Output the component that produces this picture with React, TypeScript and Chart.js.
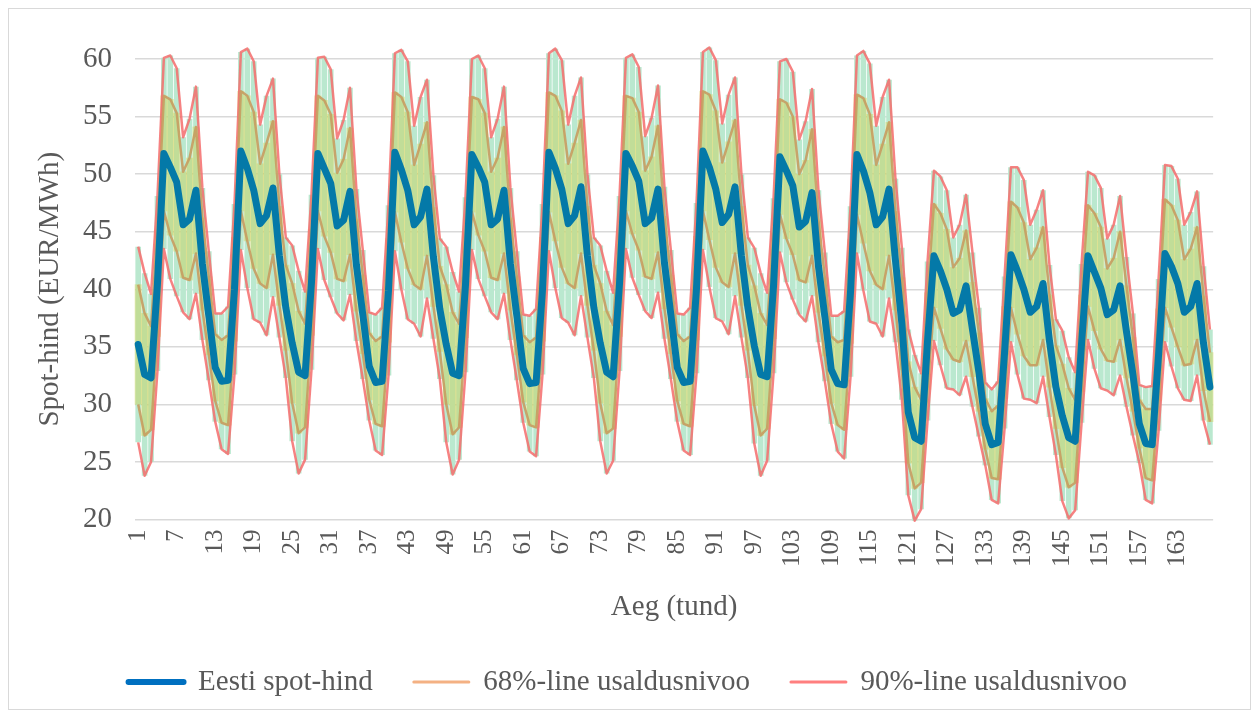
import React, { useEffect, useRef } from 'react';
import { Chart, registerables } from 'chart.js';

Chart.register(...registerables);

// Hours 1..168
const hours: string[] = Array.from({ length: 168 }, (_, i) => String(i + 1));
const tickLabels: string[] = ['1', '7', '13', '19', '25', '31', '37', '43', '49', '55', '61', '67', '73', '79', '85', '91', '97', '103', '109', '115', '121', '127', '133', '139', '145', '151', '157', '163'];

const spot: number[] = [
  35.2, 32.6, 32.3, 40.5, 51.8, 50.6, 49.3, 45.6, 46.1, 48.6, 42.2, 37.7,
  33.2, 32.0, 32.1, 40.0, 52.0, 50.5, 48.6, 45.7, 46.4, 48.8, 42.9, 38.4,
  35.3, 32.8, 32.5, 40.6, 51.8, 50.5, 49.2, 45.5, 46.0, 48.5, 42.1, 37.8,
  33.3, 31.9, 32.0, 39.9, 51.9, 50.4, 48.6, 45.6, 46.3, 48.7, 42.8, 38.3,
  35.2, 32.7, 32.5, 40.4, 51.7, 50.6, 49.3, 45.6, 46.1, 48.6, 42.2, 37.7,
  33.1, 31.8, 31.9, 40.0, 51.9, 50.5, 48.7, 45.7, 46.4, 48.9, 42.9, 38.4,
  35.3, 32.8, 32.4, 40.5, 51.8, 50.7, 49.4, 45.7, 46.2, 48.7, 42.3, 37.8,
  33.2, 31.9, 32.0, 40.1, 52.0, 50.6, 48.7, 45.8, 46.5, 48.9, 42.9, 38.4,
  35.1, 32.6, 32.4, 40.3, 51.5, 50.3, 49.0, 45.4, 45.9, 48.4, 42.0, 37.6,
  33.0, 31.8, 31.7, 39.8, 51.7, 50.3, 48.4, 45.6, 46.3, 48.7, 42.5, 37.0,
  29.3, 27.1, 26.8, 35.5, 42.9, 41.6, 40.0, 37.9, 38.2, 40.3, 36.5, 32.8,
  28.3, 26.5, 26.7, 34.5, 43.0, 41.6, 40.0, 38.0, 38.5, 40.5, 35.5, 31.5,
  29.0, 27.1, 26.8, 35.3, 42.9, 41.5, 40.1, 37.8, 38.2, 40.3, 36.3, 32.6,
  28.3, 26.6, 26.5, 34.3, 43.1, 42.0, 40.5, 38.0, 38.5, 40.5, 35.3, 31.5,
];

const upper68: number[] = [
  40.4, 37.9, 36.8, 45.1, 56.8, 56.5, 55.3, 50.2, 51.4, 54.1, 46.2, 41.1,
  36.1, 35.6, 36.0, 44.5, 57.2, 56.8, 55.4, 50.9, 52.7, 54.6, 47.2, 42.1,
  40.5, 38.1, 37.0, 45.2, 56.8, 56.4, 55.2, 50.1, 51.3, 54.0, 46.1, 41.2,
  36.2, 35.5, 35.9, 44.4, 57.1, 56.7, 55.4, 50.8, 52.6, 54.5, 47.1, 42.0,
  40.4, 38.0, 37.0, 45.0, 56.7, 56.5, 55.3, 50.2, 51.4, 54.1, 46.2, 41.1,
  36.0, 35.4, 35.8, 44.5, 57.1, 56.8, 55.5, 50.9, 52.7, 54.7, 47.2, 42.1,
  40.5, 38.1, 36.9, 45.1, 56.8, 56.6, 55.4, 50.3, 51.5, 54.2, 46.3, 41.2,
  36.1, 35.5, 35.9, 44.6, 57.2, 56.9, 55.5, 51.0, 52.8, 54.7, 47.2, 42.1,
  40.3, 37.9, 36.9, 44.9, 56.5, 56.2, 55.0, 50.0, 51.2, 53.9, 46.0, 41.0,
  35.9, 35.4, 35.6, 44.3, 56.9, 56.6, 55.2, 50.8, 52.6, 54.5, 46.8, 41.0,
  33.7, 31.5, 30.4, 39.7, 47.4, 46.6, 45.2, 41.9, 42.7, 45.1, 40.6, 36.2,
  30.5, 29.4, 29.9, 38.5, 47.6, 47.1, 45.8, 42.6, 43.6, 45.4, 39.5, 35.1,
  33.5, 31.4, 30.4, 39.5, 47.3, 46.6, 45.4, 41.8, 42.7, 45.0, 40.3, 35.8,
  30.4, 29.6, 29.6, 38.3, 47.8, 47.3, 46.0, 42.6, 43.5, 45.4, 39.4, 34.5,
];

const lower68: number[] = [
  30.0, 27.3, 27.8, 35.9, 46.8, 44.7, 43.3, 41.0, 40.8, 43.1, 38.2, 34.3,
  30.3, 28.4, 28.2, 35.5, 46.8, 44.2, 41.8, 40.5, 40.1, 43.0, 38.6, 34.7,
  30.1, 27.5, 28.0, 36.0, 46.8, 44.6, 43.2, 40.9, 40.7, 43.0, 38.1, 34.4,
  30.4, 28.3, 28.1, 35.4, 46.7, 44.1, 41.8, 40.4, 40.0, 42.9, 38.5, 34.6,
  30.0, 27.4, 28.0, 35.8, 46.7, 44.7, 43.3, 41.0, 40.8, 43.1, 38.2, 34.3,
  30.2, 28.2, 28.0, 35.5, 46.7, 44.2, 41.9, 40.5, 40.1, 43.1, 38.6, 34.7,
  30.1, 27.5, 27.9, 35.9, 46.8, 44.8, 43.4, 41.1, 40.9, 43.2, 38.3, 34.4,
  30.3, 28.3, 28.1, 35.6, 46.8, 44.3, 41.9, 40.6, 40.2, 43.1, 38.6, 34.7,
  29.9, 27.3, 27.9, 35.7, 46.5, 44.4, 43.0, 40.8, 40.6, 42.9, 38.0, 34.2,
  30.1, 28.2, 27.8, 35.3, 46.5, 44.0, 41.6, 40.4, 40.0, 42.9, 38.2, 33.0,
  24.9, 22.7, 23.2, 31.3, 38.4, 36.6, 34.8, 33.9, 33.7, 35.5, 32.4, 29.4,
  26.1, 23.6, 23.5, 30.5, 38.4, 36.1, 34.2, 33.4, 33.4, 35.6, 31.5, 27.9,
  24.5, 22.8, 23.2, 31.1, 38.5, 36.4, 34.8, 33.8, 33.7, 35.6, 32.3, 29.4,
  26.2, 23.6, 23.4, 30.3, 38.4, 36.7, 35.0, 33.4, 33.5, 35.6, 31.2, 28.5,
];

const upper90: number[] = [
  43.7, 41.4, 39.6, 48.1, 60.1, 60.3, 59.2, 53.2, 54.8, 57.6, 48.8, 43.3,
  37.9, 37.9, 38.5, 47.4, 60.6, 60.9, 59.8, 54.3, 56.8, 58.3, 50.0, 44.5,
  43.8, 41.6, 39.8, 48.2, 60.1, 60.2, 59.1, 53.1, 54.7, 57.5, 48.7, 43.4,
  38.0, 37.8, 38.4, 47.3, 60.5, 60.8, 59.8, 54.2, 56.7, 58.2, 49.9, 44.4,
  43.7, 41.5, 39.8, 48.0, 60.0, 60.3, 59.2, 53.2, 54.8, 57.6, 48.8, 43.3,
  37.8, 37.7, 38.3, 47.4, 60.5, 60.9, 59.9, 54.3, 56.8, 58.4, 50.0, 44.5,
  43.8, 41.6, 39.7, 48.1, 60.1, 60.4, 59.3, 53.3, 54.9, 57.7, 48.9, 43.4,
  37.9, 37.8, 38.4, 47.5, 60.6, 61.0, 59.9, 54.4, 56.9, 58.4, 50.0, 44.5,
  43.6, 41.4, 39.7, 47.9, 59.8, 60.0, 58.9, 53.0, 54.6, 57.4, 48.6, 43.2,
  37.7, 37.7, 38.1, 47.2, 60.3, 60.7, 59.6, 54.2, 56.7, 58.2, 49.6, 43.6,
  36.5, 34.3, 32.7, 42.4, 50.3, 49.8, 48.6, 44.5, 45.6, 48.2, 43.2, 38.4,
  31.9, 31.3, 32.0, 41.1, 50.6, 50.6, 49.5, 45.6, 46.9, 48.6, 42.1, 37.4,
  36.4, 34.1, 32.8, 42.2, 50.2, 49.9, 48.8, 44.4, 45.6, 48.1, 42.8, 37.9,
  31.7, 31.5, 31.6, 40.9, 50.8, 50.7, 49.6, 45.6, 46.7, 48.5, 42.0, 36.5,
];

const lower90: number[] = [
  26.7, 23.8, 25.0, 32.9, 43.5, 40.9, 39.4, 38.0, 37.4, 39.6, 35.6, 32.1,
  28.5, 26.1, 25.7, 32.6, 43.4, 40.1, 37.4, 37.1, 36.0, 39.3, 35.8, 32.3,
  26.8, 24.0, 25.2, 33.0, 43.5, 40.8, 39.3, 37.9, 37.3, 39.5, 35.5, 32.2,
  28.6, 26.0, 25.6, 32.5, 43.3, 40.0, 37.4, 37.0, 35.9, 39.2, 35.7, 32.2,
  26.7, 23.9, 25.2, 32.8, 43.4, 40.9, 39.4, 38.0, 37.4, 39.6, 35.6, 32.1,
  28.4, 25.9, 25.5, 32.6, 43.3, 40.1, 37.5, 37.1, 36.0, 39.4, 35.8, 32.3,
  26.8, 24.0, 25.1, 32.9, 43.5, 41.0, 39.5, 38.1, 37.5, 39.7, 35.7, 32.2,
  28.5, 26.0, 25.6, 32.7, 43.4, 40.2, 37.5, 37.2, 36.1, 39.4, 35.8, 32.3,
  26.6, 23.8, 25.1, 32.7, 43.2, 40.6, 39.1, 37.8, 37.2, 39.4, 35.4, 32.0,
  28.3, 25.9, 25.3, 32.4, 43.1, 39.9, 37.2, 37.0, 35.9, 39.2, 35.4, 30.4,
  22.1, 19.9, 20.9, 28.6, 35.5, 33.4, 31.4, 31.3, 30.8, 32.4, 29.8, 27.2,
  24.7, 21.7, 21.4, 27.9, 35.4, 32.6, 30.5, 30.4, 30.1, 32.4, 28.9, 25.6,
  21.6, 20.1, 20.8, 28.4, 35.6, 33.1, 31.4, 31.2, 30.8, 32.5, 29.8, 27.3,
  24.9, 21.7, 21.4, 27.7, 35.4, 33.3, 31.4, 30.4, 30.3, 32.5, 28.6, 26.5,
];

const FONT = "'Liberation Serif', 'Times New Roman', serif";
const TEXT = '#595959';
const BLUE_LINE = '#0479a8';
const BLUE_LEGEND = '#0070c0';
const ORANGE_LINE = 'rgba(198,156,96,0.9)';
const ORANGE_LEGEND = '#f4b183';
const RED_LINE = 'rgba(245,108,108,0.85)';
const RED_LEGEND = '#ff7f7f';

export default function App() {
  const ref = useRef<HTMLCanvasElement>(null);

  useEffect(() => {
    if (!ref.current) return;
    const band68 = lower68.map((v, i) => [v, upper68[i]]);
    const band90 = lower90.map((v, i) => [v, upper90[i]]);
    const lineBase = { type: 'line' as const, pointRadius: 0, tension: 0, fill: false, clip: false, borderJoinStyle: 'round' as const };

    const chart = new Chart(ref.current, {
      type: 'bar',
      data: {
        labels: hours,
        datasets: [
          { ...lineBase, label: 'Eesti spot-hind', data: spot, borderColor: BLUE_LINE, backgroundColor: BLUE_LINE, borderWidth: 7, borderCapStyle: 'round' },
          { ...lineBase, label: '68%-line usaldusnivoo', data: upper68, borderColor: ORANGE_LINE, backgroundColor: ORANGE_LINE, borderWidth: 2.5 },
          { ...lineBase, label: '68% lower', data: lower68, borderColor: ORANGE_LINE, backgroundColor: ORANGE_LINE, borderWidth: 2.5 },
          { ...lineBase, label: '90%-line usaldusnivoo', data: upper90, borderColor: RED_LINE, backgroundColor: RED_LINE, borderWidth: 2.5 },
          { ...lineBase, label: '90% lower', data: lower90, borderColor: RED_LINE, backgroundColor: RED_LINE, borderWidth: 2.5 },
          { type: 'bar', label: '68% band', data: band68 as any, backgroundColor: 'rgba(205,205,70,0.4)', borderWidth: 0, barPercentage: 1, categoryPercentage: 1, grouped: false, clip: false } as any,
          { type: 'bar', label: '90% band', data: band90 as any, backgroundColor: 'rgb(186,232,207)', borderWidth: 0, barPercentage: 0.88, categoryPercentage: 1, grouped: false, clip: false } as any,
        ],
      },
      options: {
        animation: false,
        responsive: true,
        maintainAspectRatio: false,
        events: [],
        layout: { padding: { left: 23.6, right: 27, top: 50, bottom: 2.5 } },
        plugins: {
          tooltip: { enabled: false },
          legend: {
            position: 'bottom',
            labels: {
              usePointStyle: true,
              pointStyleWidth: 55,
              padding: 41,
              color: TEXT,
              font: { family: FONT, size: 29 },
              generateLabels: () => [
                { text: 'Eesti spot-hind', strokeStyle: BLUE_LEGEND, fillStyle: BLUE_LEGEND, lineWidth: 6, pointStyle: 'line', lineCap: 'round', datasetIndex: 0, hidden: false, fontColor: TEXT } as any,
                { text: '68%-line usaldusnivoo', strokeStyle: ORANGE_LEGEND, fillStyle: ORANGE_LEGEND, lineWidth: 3, pointStyle: 'line', lineCap: 'round', datasetIndex: 1, hidden: false, fontColor: TEXT } as any,
                { text: '90%-line usaldusnivoo', strokeStyle: RED_LEGEND, fillStyle: RED_LEGEND, lineWidth: 3, pointStyle: 'line', lineCap: 'round', datasetIndex: 3, hidden: false, fontColor: TEXT } as any,
              ],
            },
          },
        },
        scales: {
          x: {
            grid: { display: false, drawTicks: false },
            border: { display: false },
            ticks: {
              autoSkip: false,
              minRotation: 90,
              maxRotation: 90,
              padding: 10,
              color: TEXT,
              font: { family: FONT, size: 25 },
              callback: (_v: any, i: number) => (tickLabels.includes(hours[i]) ? hours[i] : ''),
            },
            title: { display: true, text: 'Aeg (tund)', color: TEXT, font: { family: FONT, size: 29 }, padding: { top: 0, bottom: 2 } },
            afterFit: (s: any) => { s.height = 107; },
          },
          y: {
            min: 20,
            max: 60,
            ticks: { stepSize: 5, padding: 23, color: TEXT, font: { family: FONT, size: 29 } },
            grid: { color: '#d9d9d9', lineWidth: 1.5, drawTicks: false },
            border: { display: false },
            title: { display: true, text: 'Spot-hind (EUR/MWh)', color: TEXT, font: { family: FONT, size: 29 }, padding: 0 },
            afterFit: (s: any) => { s.width = 102.4; },
          },
        },
      } as any,
    });
    return () => chart.destroy();
  }, []);

  return (
    <div style={{ width: 1241, height: 700, position: 'relative', border: '1px solid #d9d9d9', background: '#fff' }}>
      <canvas ref={ref} />
    </div>
  );
}
